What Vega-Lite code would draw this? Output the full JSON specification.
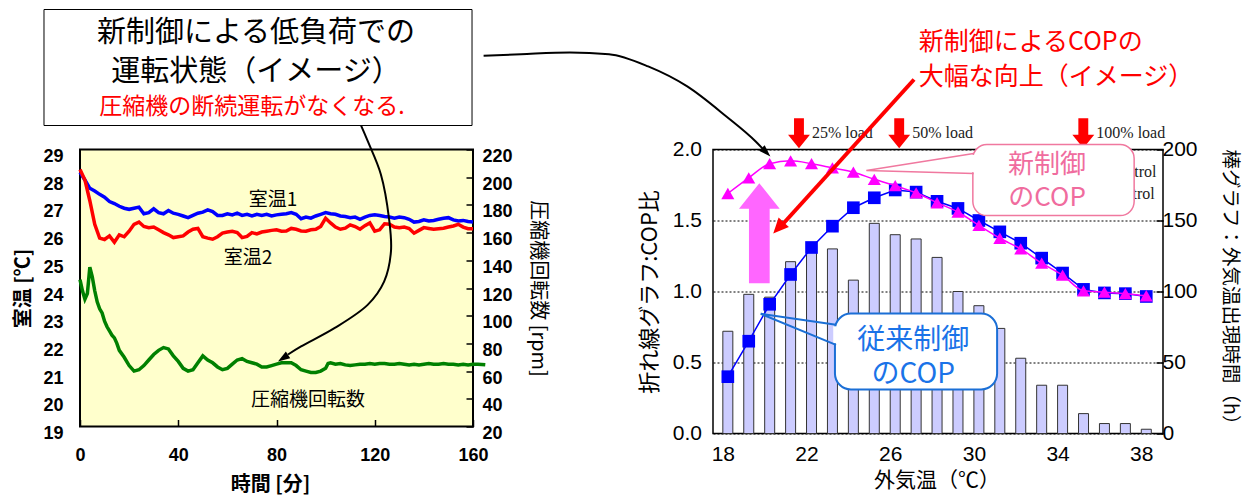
{
  "$schema": "https://vega.github.io/schema/vega-lite/v6.json",
  "autosize": {"type": "pad"},
  "padding": {"left": 12, "top": 7.5, "right": 5, "bottom": 5},
  "background": "white",
  "bounds": "flush",
  "spacing": 240,
  "config": {
    "view": {"stroke": null},
    "axis": {"labelColor": "black", "titleColor": "black", "tickColor": "black", "labelFont": "Liberation Sans"},
    "text": {"font": "Noto Sans CJK JP"}
  },
  "datasets": {
    "room": [
      {"t":0,"s":"室温1","y":28.18},{"t":2,"s":"室温1","y":27.9},{"t":4,"s":"室温1","y":27.6},{"t":6,"s":"室温1","y":27.5},{"t":8,"s":"室温1","y":27.38},{"t":10,"s":"室温1","y":27.28},{"t":12,"s":"室温1","y":27.12},{"t":14,"s":"室温1","y":27.05},{"t":16,"s":"室温1","y":26.95},{"t":18,"s":"室温1","y":26.88},{"t":20,"s":"室温1","y":26.84},{"t":22,"s":"室温1","y":26.88},{"t":24,"s":"室温1","y":26.92},{"t":26,"s":"室温1","y":26.68},{"t":28,"s":"室温1","y":26.72},{"t":30,"s":"室温1","y":26.86},{"t":32,"s":"室温1","y":26.72},{"t":34,"s":"室温1","y":26.68},{"t":36,"s":"室温1","y":26.8},{"t":38,"s":"室温1","y":26.7},{"t":40,"s":"室温1","y":26.66},{"t":42,"s":"室温1","y":26.6},{"t":44,"s":"室温1","y":26.54},{"t":46,"s":"室温1","y":26.62},{"t":48,"s":"室温1","y":26.7},{"t":50,"s":"室温1","y":26.74},{"t":52,"s":"室温1","y":26.82},{"t":54,"s":"室温1","y":26.76},{"t":56,"s":"室温1","y":26.62},{"t":58,"s":"室温1","y":26.62},{"t":60,"s":"室温1","y":26.68},{"t":62,"s":"室温1","y":26.64},{"t":64,"s":"室温1","y":26.7},{"t":66,"s":"室温1","y":26.62},{"t":68,"s":"室温1","y":26.66},{"t":70,"s":"室温1","y":26.6},{"t":72,"s":"室温1","y":26.66},{"t":74,"s":"室温1","y":26.62},{"t":76,"s":"室温1","y":26.66},{"t":78,"s":"室温1","y":26.6},{"t":80,"s":"室温1","y":26.64},{"t":82,"s":"室温1","y":26.66},{"t":84,"s":"室温1","y":26.68},{"t":86,"s":"室温1","y":26.72},{"t":88,"s":"室温1","y":26.66},{"t":90,"s":"室温1","y":26.5},{"t":92,"s":"室温1","y":26.56},{"t":94,"s":"室温1","y":26.52},{"t":96,"s":"室温1","y":26.6},{"t":98,"s":"室温1","y":26.66},{"t":100,"s":"室温1","y":26.72},{"t":102,"s":"室温1","y":26.68},{"t":104,"s":"室温1","y":26.66},{"t":106,"s":"室温1","y":26.6},{"t":108,"s":"室温1","y":26.58},{"t":110,"s":"室温1","y":26.54},{"t":112,"s":"室温1","y":26.56},{"t":114,"s":"室温1","y":26.48},{"t":116,"s":"室温1","y":26.56},{"t":118,"s":"室温1","y":26.62},{"t":120,"s":"室温1","y":26.64},{"t":122,"s":"室温1","y":26.62},{"t":124,"s":"室温1","y":26.58},{"t":126,"s":"室温1","y":26.56},{"t":128,"s":"室温1","y":26.52},{"t":130,"s":"室温1","y":26.56},{"t":132,"s":"室温1","y":26.54},{"t":134,"s":"室温1","y":26.48},{"t":136,"s":"室温1","y":26.38},{"t":138,"s":"室温1","y":26.4},{"t":140,"s":"室温1","y":26.46},{"t":142,"s":"室温1","y":26.42},{"t":144,"s":"室温1","y":26.44},{"t":146,"s":"室温1","y":26.48},{"t":148,"s":"室温1","y":26.52},{"t":150,"s":"室温1","y":26.54},{"t":152,"s":"室温1","y":26.46},{"t":154,"s":"室温1","y":26.42},{"t":156,"s":"室温1","y":26.44},{"t":158,"s":"室温1","y":26.4},{"t":160,"s":"室温1","y":26.38},
      {"t":0,"s":"室温2","y":28.28},{"t":2,"s":"室温2","y":27.9},{"t":4,"s":"室温2","y":27.15},{"t":6,"s":"室温2","y":26.3},{"t":8,"s":"室温2","y":25.8},{"t":10,"s":"室温2","y":25.75},{"t":12,"s":"室温2","y":25.88},{"t":14,"s":"室温2","y":25.65},{"t":16,"s":"室温2","y":25.92},{"t":18,"s":"室温2","y":25.85},{"t":20,"s":"室温2","y":26.05},{"t":22,"s":"室温2","y":26.3},{"t":24,"s":"室温2","y":26.38},{"t":26,"s":"室温2","y":26.22},{"t":28,"s":"室温2","y":26.18},{"t":30,"s":"室温2","y":26.2},{"t":32,"s":"室温2","y":26.1},{"t":34,"s":"室温2","y":26.0},{"t":36,"s":"室温2","y":25.92},{"t":38,"s":"室温2","y":25.82},{"t":40,"s":"室温2","y":25.85},{"t":42,"s":"室温2","y":25.88},{"t":44,"s":"室温2","y":26.02},{"t":46,"s":"室温2","y":26.12},{"t":48,"s":"室温2","y":26.15},{"t":50,"s":"室温2","y":25.85},{"t":52,"s":"室温2","y":25.8},{"t":54,"s":"室温2","y":25.76},{"t":56,"s":"室温2","y":25.85},{"t":58,"s":"室温2","y":25.98},{"t":60,"s":"室温2","y":26.02},{"t":62,"s":"室温2","y":26.05},{"t":64,"s":"室温2","y":26.0},{"t":66,"s":"室温2","y":25.82},{"t":68,"s":"室温2","y":25.86},{"t":70,"s":"室温2","y":26.0},{"t":72,"s":"室温2","y":25.95},{"t":74,"s":"室温2","y":26.02},{"t":76,"s":"室温2","y":26.05},{"t":78,"s":"室温2","y":26.08},{"t":80,"s":"室温2","y":26.1},{"t":82,"s":"室温2","y":26.05},{"t":84,"s":"室温2","y":26.06},{"t":86,"s":"室温2","y":26.15},{"t":88,"s":"室温2","y":26.12},{"t":90,"s":"室温2","y":26.06},{"t":92,"s":"室温2","y":26.05},{"t":94,"s":"室温2","y":26.1},{"t":96,"s":"室温2","y":26.12},{"t":98,"s":"室温2","y":26.22},{"t":100,"s":"室温2","y":26.52},{"t":102,"s":"室温2","y":26.35},{"t":104,"s":"室温2","y":26.2},{"t":106,"s":"室温2","y":26.12},{"t":108,"s":"室温2","y":26.16},{"t":110,"s":"室温2","y":26.28},{"t":112,"s":"室温2","y":26.22},{"t":114,"s":"室温2","y":26.12},{"t":116,"s":"室温2","y":26.25},{"t":118,"s":"室温2","y":26.35},{"t":120,"s":"室温2","y":26.05},{"t":122,"s":"室温2","y":26.1},{"t":124,"s":"室温2","y":26.32},{"t":126,"s":"室温2","y":26.3},{"t":128,"s":"室温2","y":26.2},{"t":130,"s":"室温2","y":26.18},{"t":132,"s":"室温2","y":26.2},{"t":134,"s":"室温2","y":26.15},{"t":136,"s":"室温2","y":25.98},{"t":138,"s":"室温2","y":26.08},{"t":140,"s":"室温2","y":26.18},{"t":142,"s":"室温2","y":26.15},{"t":144,"s":"室温2","y":26.12},{"t":146,"s":"室温2","y":26.14},{"t":148,"s":"室温2","y":26.16},{"t":150,"s":"室温2","y":26.2},{"t":152,"s":"室温2","y":26.24},{"t":154,"s":"室温2","y":26.3},{"t":156,"s":"室温2","y":26.2},{"t":158,"s":"室温2","y":26.14},{"t":160,"s":"室温2","y":26.14}
    ],
    "rpm": [
      {"t":0,"r":126},{"t":1,"r":118},{"t":2,"r":112},{"t":3,"r":116},{"t":4,"r":135},{"t":5,"r":128},{"t":6,"r":118},{"t":7,"r":110},{"t":8,"r":105},{"t":9,"r":102},{"t":10,"r":96},{"t":11,"r":92},{"t":12,"r":89},{"t":13,"r":86},{"t":14,"r":84},{"t":15,"r":80},{"t":16,"r":75},{"t":18,"r":70},{"t":20,"r":64},{"t":22,"r":60},{"t":24,"r":61},{"t":26,"r":64},{"t":28,"r":68},{"t":30,"r":72},{"t":32,"r":75},{"t":34,"r":77},{"t":36,"r":76},{"t":38,"r":71},{"t":40,"r":67},{"t":42,"r":62},{"t":44,"r":60},{"t":46,"r":61},{"t":48,"r":66},{"t":50,"r":71},{"t":52,"r":68},{"t":54,"r":66},{"t":56,"r":63},{"t":58,"r":61},{"t":60,"r":62},{"t":62,"r":65},{"t":64,"r":68},{"t":66,"r":69},{"t":68,"r":67},{"t":70,"r":66},{"t":72,"r":65},{"t":74,"r":63},{"t":76,"r":63},{"t":78,"r":64},{"t":80,"r":65},{"t":82,"r":66},{"t":84,"r":66},{"t":86,"r":66},{"t":88,"r":64},{"t":90,"r":61},{"t":92,"r":60},{"t":94,"r":59},{"t":96,"r":59},{"t":98,"r":60},{"t":100,"r":62},{"t":101,"r":65.5},{"t":102,"r":66},{"t":104,"r":65},{"t":106,"r":65.5},{"t":108,"r":64.5},{"t":110,"r":64},{"t":112,"r":64.5},{"t":114,"r":65},{"t":116,"r":65},{"t":118,"r":65.5},{"t":120,"r":65},{"t":122,"r":65.5},{"t":124,"r":65.5},{"t":126,"r":65},{"t":128,"r":65},{"t":130,"r":65.5},{"t":132,"r":65},{"t":134,"r":64.5},{"t":136,"r":65},{"t":138,"r":64.5},{"t":140,"r":65},{"t":142,"r":65.5},{"t":144,"r":65},{"t":146,"r":65},{"t":148,"r":65.5},{"t":150,"r":65},{"t":152,"r":65},{"t":154,"r":64.5},{"t":156,"r":65},{"t":158,"r":64.5},{"t":160,"r":65},{"t":162,"r":65},{"t":165,"r":64.5}
    ],
    "hours": [
      {"x":18,"h":72},{"x":19,"h":98},{"x":20,"h":96},{"x":21,"h":121},{"x":22,"h":128},{"x":23,"h":130},{"x":24,"h":108},{"x":25,"h":148},{"x":26,"h":140},{"x":27,"h":137},{"x":28,"h":124},{"x":29,"h":100},{"x":30,"h":90},{"x":31,"h":74},{"x":32,"h":53},{"x":33,"h":34},{"x":34,"h":34},{"x":35,"h":14},{"x":36,"h":7},{"x":37,"h":7},{"x":38,"h":3}
    ],
    "cop": [
      {"x":18,"k":"old","y":0.40},{"x":19,"k":"old","y":0.65},{"x":20,"k":"old","y":0.91},{"x":21,"k":"old","y":1.12},{"x":22,"k":"old","y":1.31},{"x":23,"k":"old","y":1.46},{"x":24,"k":"old","y":1.59},{"x":25,"k":"old","y":1.66},{"x":26,"k":"old","y":1.715},{"x":27,"k":"old","y":1.70},{"x":28,"k":"old","y":1.635},{"x":29,"k":"old","y":1.585},{"x":30,"k":"old","y":1.50},{"x":31,"k":"old","y":1.42},{"x":32,"k":"old","y":1.34},{"x":33,"k":"old","y":1.235},{"x":34,"k":"old","y":1.13},{"x":35,"k":"old","y":1.015},{"x":36,"k":"old","y":0.99},{"x":37,"k":"old","y":0.985},{"x":38,"k":"old","y":0.965},
      {"x":18,"k":"new","y":1.69},{"x":19,"k":"new","y":1.80},{"x":20,"k":"new","y":1.90},{"x":21,"k":"new","y":1.92},{"x":22,"k":"new","y":1.90},{"x":23,"k":"new","y":1.87},{"x":24,"k":"new","y":1.84},{"x":25,"k":"new","y":1.79},{"x":26,"k":"new","y":1.745},{"x":27,"k":"new","y":1.695},{"x":28,"k":"new","y":1.625},{"x":29,"k":"new","y":1.56},{"x":30,"k":"new","y":1.465},{"x":31,"k":"new","y":1.375},{"x":32,"k":"new","y":1.30},{"x":33,"k":"new","y":1.20},{"x":34,"k":"new","y":1.115},{"x":35,"k":"new","y":1.005},{"x":36,"k":"new","y":0.995},{"x":37,"k":"new","y":0.985},{"x":38,"k":"new","y":0.97}
    ]
  },
  "hconcat": [
    {
      "width": 393,
      "height": 277,
      "view": {"fill": "#ffffcc", "stroke": "black", "strokeWidth": 2},
      "layer": [
        {
          "data": {"name": "rpm"},
          "mark": {"type": "line", "color": "#008000", "strokeWidth": 3.5},
          "encoding": {
            "x": {"field": "t", "type": "quantitative", "scale": {"domain": [0, 160], "nice": false, "zero": false},
              "axis": {"values": [0, 40, 80, 120, 160], "format": "d", "title": "時間 [分]", "titleFont": "Noto Sans CJK JP", "titleFontSize": 20, "titleFontWeight": "bold", "titleX": 190, "titleY": 58, "titleBaseline": "middle", "titleAlign": "center", "labelFontSize": 18, "labelFontWeight": "bold", "labelPadding": 27, "labelFlush": false, "tickSize": -7, "tickWidth": 1.5, "domain": false, "grid": false}},
            "y": {"field": "r", "type": "quantitative", "scale": {"domain": [20, 220], "nice": false, "zero": false},
              "axis": {"orient": "right", "values": [20, 40, 60, 80, 100, 120, 140, 160, 180, 200, 220], "format": "d", "title": "圧縮機回転数 [rpm]", "titleFont": "Noto Sans CJK JP", "titleFontSize": 20, "titleFontWeight": "normal", "titleAngle": 90, "titleX": 64, "titleY": 138.5, "titleBaseline": "middle", "titleAlign": "center", "labelFontSize": 18, "labelFontWeight": "bold", "labelPadding": 16, "labelOffset": 7, "labelFlush": false, "tickSize": -7, "tickWidth": 1.5, "domain": false, "grid": false}}
          }
        },
        {
          "encoding": {
            "x": {"field": "t", "type": "quantitative", "scale": {"domain": [0, 160], "nice": false, "zero": false}},
            "y": {"field": "y", "type": "quantitative", "scale": {"domain": [19, 29], "nice": false, "zero": false},
              "axis": {"orient": "left", "values": [19, 20, 21, 22, 23, 24, 25, 26, 27, 28, 29], "format": "d", "title": "室温 [℃]", "titleFont": "Noto Sans CJK JP", "titleFontSize": 20, "titleFontWeight": "bold", "titleAngle": -90, "titleX": -57, "titleY": 138.5, "titleBaseline": "middle", "titleAlign": "center", "labelFontSize": 18, "labelFontWeight": "bold", "labelPadding": 17, "labelOffset": 7, "labelFlush": false, "ticks": false, "domain": false, "grid": false}}
          },
          "layer": [
            {
              "data": {"name": "room"},
              "mark": {"type": "line", "strokeWidth": 3.5},
              "encoding": {"color": {"field": "s", "type": "nominal", "scale": {"domain": ["室温1", "室温2"], "range": ["#0000ff", "#ff0000"]}, "legend": null}}
            },
            {
              "data": {"values": [{"t": 78.6, "y": 27.16, "txt": "室温1"}, {"t": 68.4, "y": 25.07, "txt": "室温2"}, {"t": 92.8, "y": 19.97, "txt": "圧縮機回転数"}]},
              "mark": {"type": "text", "fontSize": 19, "color": "black"},
              "encoding": {"text": {"field": "txt"}}
            },
            {
              "data": {"values": [{"t": -14.66, "t2": 159.6, "y": 29.866, "y2": 34.054}]},
              "mark": {"type": "rect", "fill": "white", "stroke": "black", "strokeWidth": 1},
              "encoding": {"x2": {"field": "t2"}, "y2": {"field": "y2"}}
            },
            {
              "data": {"values": [{"t": 71.65, "y": 33.2, "txt": "新制御による低負荷での"}, {"t": 71.65, "y": 31.79, "txt": "運転状態（イメージ）"}]},
              "mark": {"type": "text", "fontSize": 29, "color": "black"},
              "encoding": {"text": {"field": "txt"}}
            },
            {
              "data": {"values": [{"t": 70.0, "y": 30.52, "txt": "圧縮機の断続運転がなくなる."}]},
              "mark": {"type": "text", "fontSize": 23, "color": "#ff0000"},
              "encoding": {"text": {"field": "txt"}}
            },
            {
              "data": {"values": [{"o": 1, "t": 114.4, "y": 29.87}, {"o": 2, "t": 117.2, "y": 29.29}, {"o": 3, "t": 122.5, "y": 28.1}, {"o": 4, "t": 125.8, "y": 26.51}, {"o": 5, "t": 126.6, "y": 25.32}, {"o": 6, "t": 123.8, "y": 24.23}, {"o": 7, "t": 117.2, "y": 23.4}, {"o": 8, "t": 103.4, "y": 22.54}, {"o": 9, "t": 90.0, "y": 21.89}, {"o": 10, "t": 84.7, "y": 21.6}]},
              "mark": {"type": "line", "color": "black", "strokeWidth": 2, "interpolate": "catmull-rom"},
              "encoding": {"order": {"field": "o", "type": "quantitative"}}
            },
            {
              "data": {"values": [{"t": 80.6, "y": 21.35}]},
              "mark": {"type": "point", "shape": "M0,0L1,3L-1,3Z", "size": 64, "angle": 237, "filled": true, "color": "black", "opacity": 1}
            }
          ]
        }
      ],
      "resolve": {"scale": {"y": "independent"}, "axis": {"y": "independent"}}
    },
    {
      "width": 450,
      "height": 284,
      "view": {"stroke": "black", "strokeWidth": 1.5},
      "layer": [
        {
          "data": {"name": "hours"},
          "mark": {"type": "bar", "size": 10, "fill": "#ccccff", "stroke": "#333333", "strokeWidth": 1},
          "encoding": {
            "x": {"field": "x", "type": "quantitative", "scale": {"domain": [17.53, 38.56], "nice": false, "zero": false},
              "axis": {"values": [18, 22, 26, 30, 34, 38], "format": "d", "labelOffset": -5, "labelPadding": 10, "labelFontSize": 21, "labelFlush": false, "labelOverlap": false, "ticks": false, "title": "外気温（℃）", "titleFont": "Noto Sans CJK JP", "titleFontSize": 21, "titleFontWeight": "normal", "titleX": 223.5, "titleY": 47, "titleBaseline": "middle", "titleAlign": "center", "domain": false, "grid": false}},
            "y": {"field": "h", "type": "quantitative", "scale": {"domain": [0, 200], "nice": false},
              "axis": {"orient": "right", "values": [0, 50, 100, 150, 200], "format": "d", "title": "棒グラフ：外気温出現時間（h）", "titleFont": "Noto Sans CJK JP", "titleFontSize": 19.5, "titleFontWeight": "normal", "titleAngle": 90, "titleX": 66, "titleY": 142, "titleBaseline": "middle", "titleAlign": "center", "labelFontSize": 21, "labelPadding": 6, "labelFlush": false, "tickSize": -7, "tickWidth": 1.5, "domain": false, "grid": false}}
          }
        },
        {
          "encoding": {
            "x": {"field": "x", "type": "quantitative", "scale": {"domain": [17.53, 38.56], "nice": false, "zero": false}},
            "y": {"field": "y", "type": "quantitative", "scale": {"domain": [0, 2], "nice": false, "zero": false},
              "axis": {"orient": "left", "values": [0, 0.5, 1, 1.5, 2], "format": ".1f", "title": "折れ線グラフ:COP比", "titleFont": "Noto Sans CJK JP", "titleFontSize": 22, "titleFontWeight": "normal", "titleAngle": -90, "titleX": -63.5, "titleY": 142, "titleBaseline": "middle", "titleAlign": "center", "labelFontSize": 21, "labelPadding": 11.5, "labelFlush": false, "ticks": false, "domain": false, "grid": true, "gridDash": [2, 2], "gridColor": "black", "gridWidth": 1, "gridOpacity": 1}}
          },
          "layer": [
            {
              "data": {"values": [{"x": 19.5}, {"x": 21.5}, {"x": 23.5}, {"x": 25.5}, {"x": 27.5}, {"x": 29.5}, {"x": 31.5}, {"x": 33.5}, {"x": 35.5}, {"x": 37.5}]},
              "mark": {"type": "tick", "orient": "vertical", "size": 9, "thickness": 1.5, "yOffset": -4.5, "color": "black", "opacity": 1},
              "encoding": {"y": {"datum": 0}}
            },
            {
              "data": {"name": "cop"},
              "transform": [{"filter": "datum.k === 'old'"}],
              "mark": {"type": "line", "color": "#0000ff", "strokeWidth": 1.5}
            },
            {
              "data": {"name": "cop"},
              "transform": [{"filter": "datum.k === 'old'"}],
              "mark": {"type": "point", "shape": "square", "size": 160, "filled": true, "color": "#0000ff", "opacity": 1}
            },
            {
              "data": {"name": "cop"},
              "transform": [{"filter": "datum.k === 'new'"}],
              "mark": {"type": "line", "color": "#ff00ff", "strokeWidth": 1.5, "interpolate": "monotone"}
            },
            {
              "data": {"name": "cop"},
              "transform": [{"filter": "datum.k === 'new'"}],
              "mark": {"type": "point", "shape": "triangle-up", "size": 170, "filled": true, "color": "#ff00ff", "opacity": 1}
            },
            {
              "data": {"values": [{"x": 19.505, "y": 1.4106}]},
              "mark": {"type": "point", "shape": "M0,-1L0.407,-0.488L0.207,-0.488L0.207,1L-0.207,1L-0.207,-0.488L-0.407,-0.488Z", "size": 10000, "filled": true, "color": "#ff66ff", "opacity": 1}
            },
            {
              "data": {"values": [{"x": 21.4, "y": 2.115, "label": "25% load"}, {"x": 26.19, "y": 2.115, "label": "50% load"}, {"x": 34.99, "y": 2.115, "label": "100% load"}]},
              "layer": [
                {"mark": {"type": "point", "shape": "M-0.33,-1L0.33,-1L0.33,0.1L0.73,0.1L0,1L-0.73,0.1L-0.33,0.1Z", "size": 900, "filled": true, "color": "#ff0000", "opacity": 1}},
                {"mark": {"type": "text", "align": "left", "baseline": "middle", "dx": 13, "font": "Liberation Serif", "fontSize": 16, "color": "#222222"}, "encoding": {"text": {"field": "label"}}}
              ]
            },
            {
              "data": {"values": [{"x": 38.49, "y": 1.845, "label": "New control"}, {"x": 38.4, "y": 1.69, "label": "Conventional control"}]},
              "mark": {"type": "text", "align": "right", "baseline": "middle", "font": "Liberation Serif", "fontSize": 16, "color": "#222222"},
              "encoding": {"text": {"field": "label"}}
            },
            {
              "data": {"values": [{"x": 29.71, "x2": 37.42, "y": 1.535, "y2": 2.035}]},
              "mark": {"type": "rect", "fill": "white", "stroke": "#f0789f", "strokeWidth": 1.5, "cornerRadius": 14},
              "encoding": {"x2": {"field": "x2"}, "y2": {"field": "y2"}}
            },
            {
              "data": {"values": [{"x": 29.71, "y": 1.962, "y2": 1.84}]},
              "mark": {"type": "rule", "color": "white", "strokeWidth": 3},
              "encoding": {"y2": {"field": "y2"}}
            },
            {
              "data": {"values": [{"o": 1, "x": 29.75, "y": 1.972}, {"o": 2, "x": 24.62, "y": 1.852}, {"o": 3, "x": 29.75, "y": 1.831}]},
              "mark": {"type": "line", "color": "#f0789f", "strokeWidth": 1.5},
              "encoding": {"order": {"field": "o", "type": "quantitative"}}
            },
            {
              "data": {"values": [{"x": 33.26, "y": 1.894, "txt": "新制御"}, {"x": 33.26, "y": 1.655, "txt": "のCOP"}]},
              "mark": {"type": "text", "fontSize": 26, "color": "#f06c9e"},
              "encoding": {"text": {"field": "txt"}}
            },
            {
              "data": {"values": [{"x": 23.12, "x2": 30.87, "y": 0.31, "y2": 0.845}]},
              "mark": {"type": "rect", "fill": "white", "stroke": "#1b6fd6", "strokeWidth": 2, "cornerRadius": 16},
              "encoding": {"x2": {"field": "x2"}, "y2": {"field": "y2"}}
            },
            {
              "data": {"values": [{"x": 23.12, "y": 0.755, "y2": 0.635}]},
              "mark": {"type": "rule", "color": "white", "strokeWidth": 3.5},
              "encoding": {"y2": {"field": "y2"}}
            },
            {
              "data": {"values": [{"o": 1, "x": 23.17, "y": 0.7655}, {"o": 2, "x": 19.57, "y": 0.843}, {"o": 3, "x": 23.17, "y": 0.6246}]},
              "mark": {"type": "line", "color": "#1b6fd6", "strokeWidth": 2},
              "encoding": {"order": {"field": "o", "type": "quantitative"}}
            },
            {
              "data": {"values": [{"x": 26.86, "y": 0.648, "txt": "従来制御"}, {"x": 26.86, "y": 0.415, "txt": "のCOP"}]},
              "mark": {"type": "text", "fontSize": 28, "color": "#1a73e8"},
              "encoding": {"text": {"field": "txt"}}
            },
            {
              "data": {"values": [{"o": 1, "x": 26.9, "y": 2.493}, {"o": 2, "x": 20.6, "y": 1.47}]},
              "mark": {"type": "line", "color": "#ff0000", "strokeWidth": 4},
              "encoding": {"order": {"field": "o", "type": "quantitative"}}
            },
            {
              "data": {"values": [{"x": 20.17, "y": 1.408}]},
              "mark": {"type": "point", "shape": "M0,0L1,2.2L-1,2.2Z", "size": 196, "angle": 223, "filled": true, "color": "#ff0000", "opacity": 1}
            },
            {
              "data": {"values": [{"x": 27.13, "y": 2.754, "txt": "新制御によるCOPの"}, {"x": 27.13, "y": 2.514, "txt": "大幅な向上（イメージ）"}]},
              "mark": {"type": "text", "align": "left", "baseline": "middle", "fontSize": 25, "color": "#ff0000"},
              "encoding": {"text": {"field": "txt"}}
            },
            {
              "data": {"values": [{"x": 6.327, "y": 2.66}, {"x": 8.117, "y": 2.671}, {"x": 10.453, "y": 2.683}, {"x": 12.322, "y": 2.671}, {"x": 14.192, "y": 2.585}, {"x": 16.061, "y": 2.444}, {"x": 17.93, "y": 2.232}, {"x": 19.332, "y": 2.056}, {"x": 19.64, "y": 2.01}]},
              "mark": {"type": "line", "color": "black", "strokeWidth": 2, "interpolate": "monotone"}
            },
            {
              "data": {"values": [{"x": 20.033, "y": 1.951}]},
              "mark": {"type": "point", "shape": "M0,0L1,3L-1,3Z", "size": 64, "angle": 135, "filled": true, "color": "black", "opacity": 1}
            }
          ]
        }
      ],
      "resolve": {"scale": {"y": "independent"}, "axis": {"y": "independent"}}
    }
  ]
}
